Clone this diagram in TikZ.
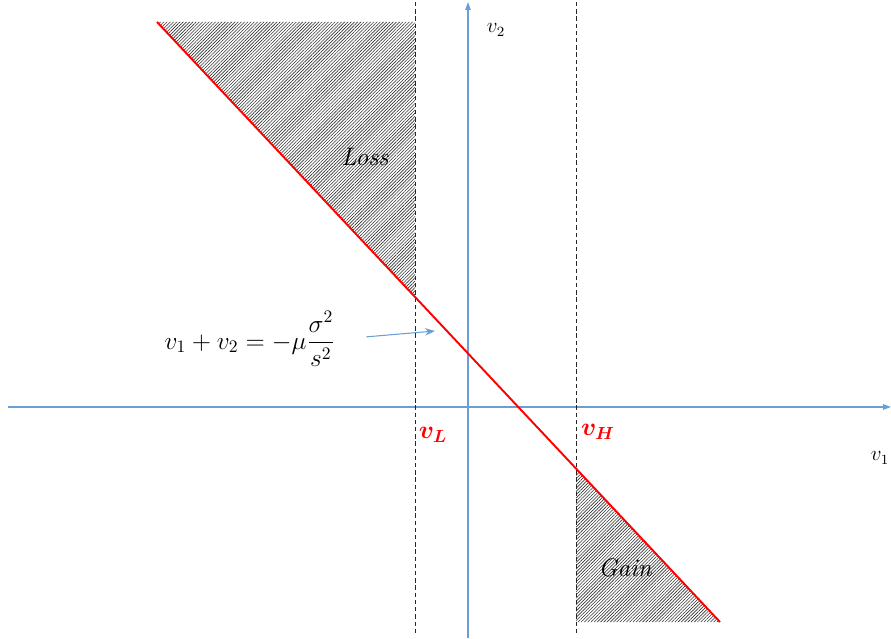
\documentclass[tikz,border=0pt]{standalone}
\usepackage{amsmath}
\usetikzlibrary{arrows.meta, patterns.meta}
\definecolor{axisBlue}{HTML}{6A9FD6}
\definecolor{lineRed}{HTML}{FF0000}

\begin{document}
\begin{tikzpicture}[
  x=0.02cm, y=0.02cm,
  axis/.style={axisBlue, line width=0.7pt,
               -{Triangle[length=1.6mm, width=1.1mm]}},
  bound/.style={black!85, line width=0.45pt, dash pattern=on 2.5pt off 1.6pt},
  region/.style={pattern={Lines[angle=45, distance=1.3pt, line width=0.35pt]},
                 pattern color=black!80},
  tag/.style={font=\Large\itshape},
  cut/.style={red, font=\Large},
  >=Stealth,
]
  \useasboundingbox (-468,-231) rectangle (423,407);

  % corner points
  \coordinate (tl) at (-311,385);
  \coordinate (br) at (252,-215);
  \coordinate (lTop) at (-53,405);
  \coordinate (lBot) at (-53,-228);
  \coordinate (hTop) at (108,405);
  \coordinate (hBot) at (108,-228);
  \coordinate (lCut) at (intersection of tl--br and lTop--lBot);
  \coordinate (hCut) at (intersection of tl--br and hTop--hBot);

  % shaded regions
  \fill[region] (tl) -- (tl -| lTop) -- (lCut) -- cycle;
  \fill[region] (hCut) -- (hCut |- br) -- (br) -- cycle;

  % axes
  \coordinate (xLeft) at (-460,0);
  \coordinate (xRight) at (423,0);
  \coordinate (yBot) at (0,-231);
  \coordinate (yTop) at (0,405);
  \draw[axis] (xLeft) -- (xRight);
  \draw[axis] (yBot) -- (yTop);
  \node[font=\large] (v1) at (412,-51) {$v_1$};
  \node[font=\large] (v2) at (28,377) {$v_2$};

  % bounds
  \draw[bound] (lTop) -- (lBot);
  \draw[bound] (hTop) -- (hBot);
  \node[cut] (vL) at (-35,-28) {$\boldsymbol{v_L}$};
  \node[cut] (vH) at (130,-25) {$\boldsymbol{v_H}$};

  % budget line
  \draw[lineRed, line width=1.1pt] (tl) -- (br);
  \node[font=\Large] (eq) at (-218,68) {$v_1 + v_2 = -\mu\dfrac{\sigma^2}{s^2}$};
  \coordinate (tip) at (-33,76);
  \draw[->, axisBlue, line width=0.6pt, shorten <=5mm] (eq.east) -- (tip);

  \node[tag] (loss) at (-103,250) {Loss};
  \node[tag] (gain) at (157,-161) {Gain};
\end{tikzpicture}
\end{document}
